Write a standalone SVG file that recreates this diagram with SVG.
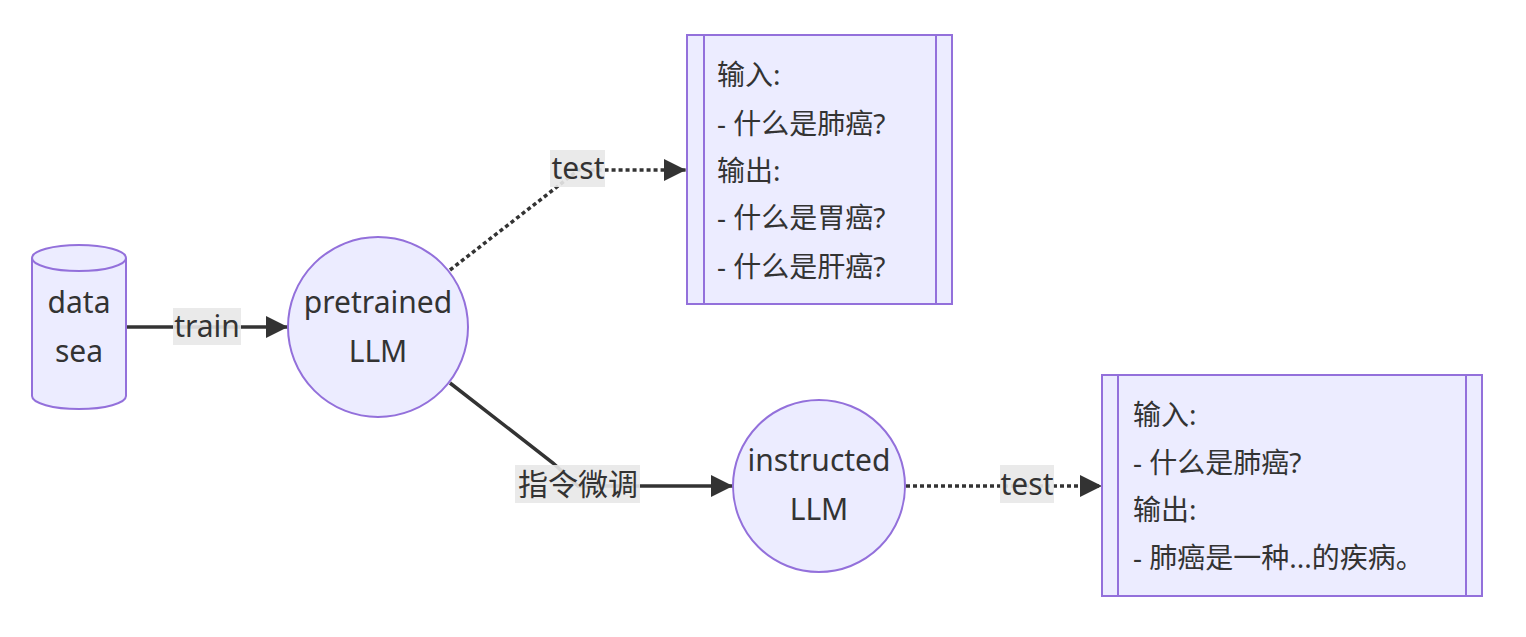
<svg xmlns="http://www.w3.org/2000/svg" width="1526" height="637" viewBox="0 0 1526 637">
<defs>
<style>
.node{fill:#ECECFF;stroke:#9370DB;stroke-width:2}
.t{font-family:"Noto Sans","Noto Sans CJK SC",sans-serif;font-size:30px;fill:#333}
.b{font-size:28px}
.c{text-anchor:middle}
.e{fill:none;stroke:#333;stroke-width:3.5}
.d{stroke-dasharray:4 3}
.lb{fill:#e8e8e8;opacity:0.9}
</style>
<marker id="ah2" viewBox="0 0 10 10" refX="10" refY="5" markerWidth="22" markerHeight="22" markerUnits="userSpaceOnUse" orient="auto">
<path d="M0,0 L10,5 L0,10 z" fill="#333"/>
</marker>
</defs>
<rect width="1526" height="637" fill="#fff"/>
<g id="edges">
<path class="e" d="M126,327 L288,327" marker-end="url(#ah2)"/>
<path class="e d" d="M450,270 L553,190 L578,170 L686,170" marker-end="url(#ah2)"/>
<path class="e" d="M450,383 L553,463 L578,486 L733,486" marker-end="url(#ah2)"/>
<path class="e d" d="M906,486 L1102,486" marker-end="url(#ah2)"/>
<rect class="lb" x="173" y="308" width="68" height="37"/>
<text class="t c" x="207" y="337">train</text>
<rect class="lb" x="550" y="150" width="55" height="37"/>
<text class="t c" x="578" y="179">test</text>
<rect class="lb" x="515" y="465" width="125" height="38"/>
<text class="t c" x="578" y="495">指令微调</text>
<rect class="lb" x="1000" y="465" width="54" height="38"/>
<text class="t c" x="1027" y="495">test</text>
</g>
<g id="datasea">
<path class="node" d="M32,258 A47,13 0 0 1 126,258 L126,396 A47,13 0 0 1 32,396 Z"/>
<path class="node" d="M32,258 A47,13 0 0 0 126,258" fill="none"/>
<text class="t c" x="79" y="313">data</text>
<text class="t c" x="79" y="362">sea</text>
</g>
<g id="pretrained">
<circle class="node" cx="378" cy="327" r="90"/>
<text class="t c" x="378" y="313">pretrained</text>
<text class="t c" x="378" y="362">LLM</text>
</g>
<g id="box1">
<rect class="node" x="687" y="35" width="265" height="269"/>
<line class="node" x1="704" y1="35" x2="704" y2="304"/>
<line class="node" x1="936" y1="35" x2="936" y2="304"/>
<text class="t b" x="717" y="85">输入:</text>
<text class="t b" x="717" y="134">- 什么是肺癌?</text>
<text class="t b" x="717" y="181">输出:</text>
<text class="t b" x="717" y="228">- 什么是胃癌?</text>
<text class="t b" x="717" y="277">- 什么是肝癌?</text>
</g>
<g id="instructed">
<circle class="node" cx="819" cy="486" r="86"/>
<text class="t c" x="819" y="471">instructed</text>
<text class="t c" x="819" y="520">LLM</text>
</g>
<g id="box2">
<rect class="node" x="1102" y="375" width="380" height="221"/>
<line class="node" x1="1118" y1="375" x2="1118" y2="596"/>
<line class="node" x1="1466" y1="375" x2="1466" y2="596"/>
<text class="t b" x="1133" y="425">输入:</text>
<text class="t b" x="1133" y="473">- 什么是肺癌?</text>
<text class="t b" x="1133" y="520">输出:</text>
<text class="t b" x="1133" y="568">- 肺癌是一种...的疾病。</text>
</g>
</svg>
